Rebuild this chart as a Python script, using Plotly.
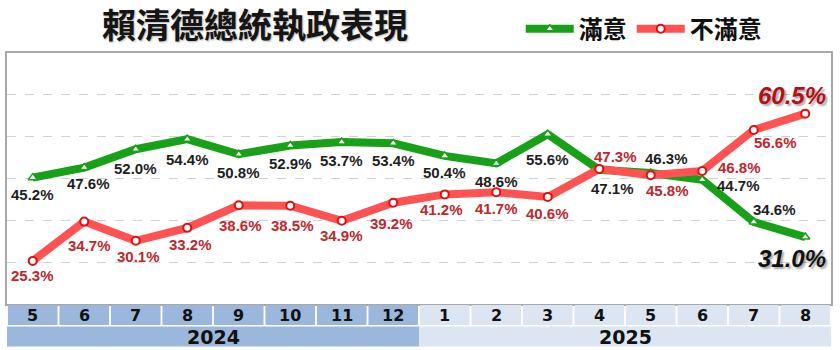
import plotly.graph_objects as go

# ---- data ----
months = ["5", "6", "7", "8", "9", "10", "11", "12", "1", "2", "3", "4", "5", "6", "7", "8"]
years = ["2024", "2025"]
year_month_counts = [8, 8]
satisfied = [45.2, 47.6, 52.0, 54.4, 50.8, 52.9, 53.7, 53.4, 50.4, 48.6, 55.6, 47.1, 46.3, 44.7, 34.6, 31.0]
dissatisfied = [25.3, 34.7, 30.1, 33.2, 38.6, 38.5, 34.9, 39.2, 41.2, 41.7, 40.6, 47.3, 45.8, 46.8, 56.6, 60.5]
title_text = "賴清德總統執政表現"
series_names = ["滿意", "不滿意"]

# ---- style ----
GREEN = "#18A018"
RED = "#FF5252"
LABEL_DARK = "#1E1E1E"
LABEL_RED = "#C1272D"
BLUE_2024 = "#9BB7DC"
BLUE_2025 = "#DCE6F2"

# label pixel offsets (xshift, yshift) relative to each point
sat_off = [(0, -17), (4, -16), (0, -19), (0, -20), (0, -18), (0, -18), (0, -18), (0, -17),
           (0, -17), (0, -18), (0, -25), (13, -19), (16, 15), (36, -6), (21, 13), (-13, -21)]
dis_off = [(0, -15), (5, -24), (3, -16), (3, -17), (2, -20), (2, -20), (0, -15), (-2, -21),
           (-3, -15), (0, -16), (0, -17), (16, 12), (17, -15), (37, 3), (22, -13), (-13, 18)]

x = list(range(len(months)))

fig = go.Figure()
fig.add_trace(go.Scatter(
    x=x, y=satisfied, name=series_names[0], mode="lines+markers",
    line=dict(color=GREEN, width=8),
    marker=dict(symbol="triangle-up", size=8, color="white", line=dict(color=GREEN, width=1.5)),
))
fig.add_trace(go.Scatter(
    x=x, y=dissatisfied, name=series_names[1], mode="lines+markers",
    line=dict(color=RED, width=8),
    marker=dict(symbol="circle", size=8, color="white", line=dict(color="#E01010", width=2)),
))

annotations = []
n = len(x)
for i in range(n):
    last = i == n - 1
    for vals, offs, col, bigcol in ((satisfied, sat_off, LABEL_DARK, "#111111"),
                                    (dissatisfied, dis_off, LABEL_RED, "#B50F16")):
        annotations.append(dict(
            x=x[i], y=vals[i], text=f"{vals[i]:.1f}%", showarrow=False,
            xshift=offs[i][0], yshift=offs[i][1],
            font=dict(family="Liberation Sans, Arial", size=24 if last else 15,
                      color=bigcol if last else col, weight="bold",
                      style="italic" if last else "normal",
                      shadow="2px 2px 2px rgba(0,0,0,0.35)" if last else "none"),
        ))

# title
annotations.append(dict(
    xref="paper", yref="paper", x=(256 - 7) / 826, y=(304 - 19) / 255,
    xanchor="center", yanchor="middle", text=f"<b>{title_text}</b>", showarrow=False,
    font=dict(family="Noto Sans CJK TC", size=34, color="#151515",
              shadow="1px 1px 2px rgba(0,0,0,0.3)"),
))

shapes = []
# month row cells
r1_top, r1_bot = -0.004, -0.084
r2_top, r2_bot = -0.090, -0.169
idx = 0
for yi, (yr, cnt) in enumerate(zip(years, year_month_counts)):
    fill = BLUE_2024 if yi == 0 else BLUE_2025
    start = idx
    for k in range(cnt):
        i = idx + k
        shapes.append(dict(type="rect", xref="x", yref="paper",
                           x0=i - 0.5 + 0.018, x1=i + 0.5 - 0.018, y0=r1_bot, y1=r1_top,
                           fillcolor=fill, line=dict(width=0), layer="above"))
        annotations.append(dict(x=i, y=(r1_top + r1_bot) / 2, xref="x", yref="paper",
                                text=months[i], showarrow=False, yanchor="middle",
                                font=dict(family="DejaVu Sans", size=16, color="#111", weight="bold")))
    idx += cnt
    shapes.append(dict(type="rect", xref="x", yref="paper",
                       x0=start - 0.5, x1=idx - 0.5, y0=r2_bot, y1=r2_top,
                       fillcolor=fill, line=dict(width=0), layer="above"))
    annotations.append(dict(x=(start + idx - 1) / 2, y=(r2_top + r2_bot) / 2, xref="x", yref="paper",
                            text=yr, showarrow=False, yanchor="middle",
                            font=dict(family="DejaVu Sans", size=19, color="#111", weight="bold")))

fig.update_layout(
    width=840, height=350,
    margin=dict(l=7, r=7, t=49, b=46),
    paper_bgcolor="white", plot_bgcolor="white",
    showlegend=True,
    legend=dict(orientation="h", x=(522 - 7) / 826, xanchor="left",
                y=(304 - 2) / 255, yanchor="top",
                font=dict(family="Noto Sans CJK TC", size=24, color="#111", weight="bold"),
                itemwidth=48, bgcolor="rgba(0,0,0,0)", tracegroupgap=0),
    xaxis=dict(range=[-0.5, 15.5], showgrid=False, zeroline=False, showticklabels=False,
               ticks="", showline=True, mirror=True, linecolor="#A8A8A8", linewidth=2),
    yaxis=dict(range=[15, 75], tickvals=[25, 35, 45, 55, 65], showgrid=True,
               gridcolor="#D2D2D2", griddash="dash", gridwidth=1, zeroline=False,
               showticklabels=False, ticks="", showline=True, mirror=True,
               linecolor="#A8A8A8", linewidth=2),
    annotations=annotations,
    shapes=shapes,
)

fig.write_html("out.html")
